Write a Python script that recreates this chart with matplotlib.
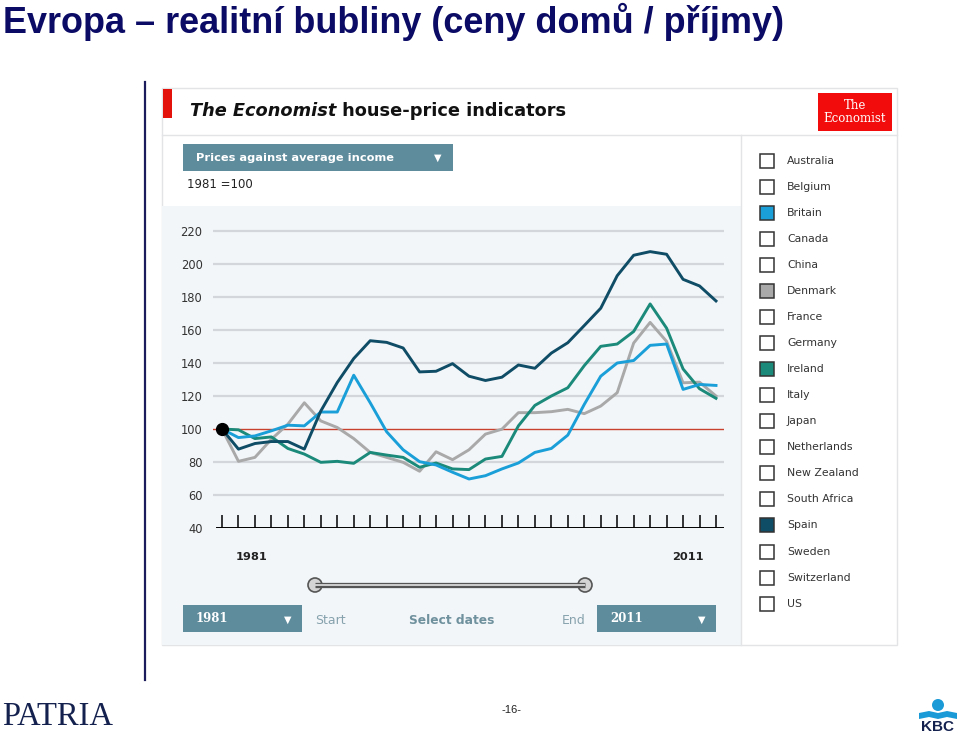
import matplotlib
matplotlib.use("Agg")
import matplotlib.pyplot as plt
from matplotlib.patches import Rectangle, Circle, Polygon

# data (prices against average income, 1981 = 100)
years = list(range(1981, 2012))
spain = [100, 87.8, 91.2, 92.4, 92.4, 87.8, 110.9, 128.2, 142.7, 153.5, 152.5,
         149.1, 134.6, 135.0, 139.6, 132.0, 129.4, 131.4, 138.8, 136.8, 146.0,
         152.3, 162.7, 173.2, 192.9, 205.3, 207.5, 205.9, 190.7, 186.7, 177.6]
britain = [100, 94.8, 95.8, 98.9, 102.3, 101.9, 110.3, 110.3, 132.6, 115.9, 98.3,
           87.4, 80.2, 78.2, 73.8, 69.7, 71.7, 75.8, 79.4, 85.8, 88.2,
           96.3, 114.9, 132.0, 140.0, 141.5, 150.7, 151.5, 124.0, 127.0, 126.4]
denmark = [100, 80.4, 82.8, 93.8, 102.9, 115.9, 104.9, 100.9, 94.2, 85.8, 82.8,
           79.8, 74.4, 86.2, 81.4, 87.4, 96.9, 99.9, 109.9, 109.9, 110.5,
           111.9, 109.3, 113.9, 122.0, 152.1, 164.6, 153.1, 128.0, 128.4, 120.0]
ireland = [100, 99.5, 94.2, 95.2, 88.2, 84.8, 79.8, 80.4, 79.2, 85.8, 84.2,
           82.8, 76.8, 79.4, 75.8, 75.4, 81.8, 83.4, 101.9, 114.3, 120.0,
           125.0, 138.4, 150.1, 151.5, 159.1, 175.8, 161.1, 136.4, 124.4, 118.6]

y_ticks = [40, 60, 80, 100, 120, 140, 160, 180, 200, 220]
countries = ["Australia", "Belgium", "Britain", "Canada", "China", "Denmark",
             "France", "Germany", "Ireland", "Italy", "Japan", "Netherlands",
             "New Zealand", "South Africa", "Spain", "Sweden", "Switzerland", "US"]

c_spain = "#0f4c66"
c_britain = "#1a9fd8"
c_denmark = "#a9a9a9"
c_ireland = "#1b8a7a"
selected = {"Britain": c_britain, "Denmark": c_denmark,
            "Ireland": c_ireland, "Spain": c_spain}
box_col = "#5f8c9c"

fig = plt.figure(figsize=(9.6, 7.35), dpi=100)
fig.patch.set_facecolor("white")

# decoration layer in pixel coordinates
ax0 = fig.add_axes([0, 0, 1, 1])
ax0.set_xlim(0, 960)
ax0.set_ylim(735, 0)
ax0.axis("off")

ax0.text(3, 33, "Evropa – realitní bubliny (ceny domů / příjmy)",
         fontsize=25.9, fontweight="bold", color="#0b0b66",
         family="Liberation Sans", va="baseline", ha="left")
ax0.plot([145, 145], [82, 680], color="#1c1c5c", lw=1.6)

# widget frame
ax0.add_patch(Rectangle((162, 88), 735, 557, facecolor="white",
                        edgecolor="#e2e4e6", lw=1))
ax0.add_patch(Rectangle((162, 206), 579, 439, facecolor="#f3f6f9",
                        edgecolor="none"))
ax0.plot([162, 897], [135, 135], color="#e2e4e6", lw=1)
ax0.plot([741, 741], [135, 645], color="#e2e4e6", lw=1)
ax0.add_patch(Rectangle((163, 89), 9, 29, facecolor="#e3120b", edgecolor="none"))

t1 = ax0.text(190, 116, "The Economist", fontsize=12.8, fontstyle="italic",
              fontweight="bold", color="#111111", va="baseline")
ax0.annotate(" house-price indicators", xy=(1, 0), xycoords=t1,
             fontsize=12.8, fontweight="bold", color="#111111", va="bottom")

ax0.add_patch(Rectangle((818, 93), 74, 38, facecolor="#f20c0c", edgecolor="none"))
ax0.text(855, 112, "The\nEconomist", fontsize=8.5, color="white",
         family="DejaVu Serif", ha="center", va="center", linespacing=0.95)

# dropdown
ax0.add_patch(Rectangle((183, 144), 270, 27, facecolor=box_col, edgecolor="none"))
ax0.text(196, 158, "Prices against average income", fontsize=8.2,
         fontweight="bold", color="white", va="center")
ax0.text(438, 158, "▼", fontsize=7, color="white", va="center", ha="center")
ax0.text(187, 184, "1981 =100", fontsize=8.5, color="#222222", va="center")

# legend panel
for i, name in enumerate(countries):
    yc = 160.5 + i * 26.07
    fc = selected.get(name, "white")
    ax0.add_patch(Rectangle((760, yc - 7), 14, 14, facecolor=fc,
                            edgecolor="#333333", lw=1.1))
    ax0.text(787, yc, name, fontsize=7.8, color="#333333", va="center")

# year labels and slider
ax0.text(252, 557, "1981", fontsize=8.2, fontweight="bold", color="#222222",
         ha="center", va="center")
ax0.text(688, 557, "2011", fontsize=8.2, fontweight="bold", color="#222222",
         ha="center", va="center")
ax0.plot([315, 585], [585, 585], color="#555555", lw=3.8, solid_capstyle="butt")
ax0.plot([315, 585], [585, 585], color="#cfcfcf", lw=1.4, solid_capstyle="butt")
for xh in (315, 585):
    ax0.add_patch(Circle((xh, 585), 7, facecolor="#d4d4d4",
                         edgecolor="#555555", lw=1.2))

ax0.add_patch(Rectangle((183, 605), 119, 27, facecolor=box_col, edgecolor="none"))
ax0.text(196, 618, "1981", fontsize=8.5, fontweight="bold", color="white",
         va="center", family="DejaVu Serif")
ax0.text(288, 620, "▼", fontsize=7, color="white", va="center", ha="center")
ax0.add_patch(Rectangle((597, 605), 119, 27, facecolor=box_col, edgecolor="none"))
ax0.text(610, 618, "2011", fontsize=8.5, fontweight="bold", color="white",
         va="center", family="DejaVu Serif")
ax0.text(702, 620, "▼", fontsize=7, color="white", va="center", ha="center")
ax0.text(315, 620, "Start", fontsize=9, color="#86a2ad", va="center")
ax0.text(452, 620, "Select dates", fontsize=8.8, fontweight="bold",
         color="#6f919e", va="center", ha="center")
ax0.text(562, 620, "End", fontsize=9, color="#86a2ad", va="center")

# footer
ax0.text(2, 725, "PATRIA", fontsize=23.5, family="Liberation Serif",
         color="#14214f", va="baseline")
ax0.text(512, 710, "-16-", fontsize=8, family="Liberation Sans",
         color="#222222", ha="center", va="center")
ax0.add_patch(Circle((938, 705), 6, facecolor="#1a9ad6", edgecolor="none"))
ax0.add_patch(Polygon([(919, 713), (929, 711), (938, 713), (947, 711), (957, 713),
                       (957, 719), (947, 717), (938, 719), (929, 717), (919, 719)],
                      closed=True, facecolor="#1a9ad6", edgecolor="none"))
ax0.text(938, 727, "KBC", fontsize=11, fontweight="bold", color="#14214f",
         ha="center", va="center", family="Liberation Sans")

# chart
ax = fig.add_axes([213 / 960, (735 - 528) / 735, (724 - 213) / 960,
                   (528 - 222.75) / 735])
ax.patch.set_alpha(0)
ax.set_xlim(1981 - 9 / 16.467, 2011 + 8 / 16.467)
ax.set_ylim(40, 225)
for s in ax.spines.values():
    s.set_visible(False)
ax.set_xticks([])
ax.set_yticks(y_ticks)
ax.set_yticklabels([str(v) for v in y_ticks])
ax.tick_params(axis="y", length=0, pad=7.5, labelsize=8.3, labelcolor="#333333")

for v in y_ticks:
    if v == 40:
        ax.axhline(v, color="black", lw=1.4, xmin=0.008, zorder=2)
    elif v == 100:
        ax.axhline(v, color="#c8412e", lw=1.0, zorder=2)
    else:
        ax.axhline(v, color="#d3d7db", lw=1.6, zorder=1)
ax.vlines(years, 40, 48, color="black", lw=1.1, zorder=2)

ax.plot(years, denmark, color=c_denmark, lw=2.1, zorder=3)
ax.plot(years, ireland, color=c_ireland, lw=2.1, zorder=4)
ax.plot(years, britain, color=c_britain, lw=2.1, zorder=5)
ax.plot(years, spain, color=c_spain, lw=2.1, zorder=6)
ax.plot([years[0]], [100], "o", color="black", ms=8.5, zorder=7)

fig.savefig("out.png", dpi=100, facecolor="white")
